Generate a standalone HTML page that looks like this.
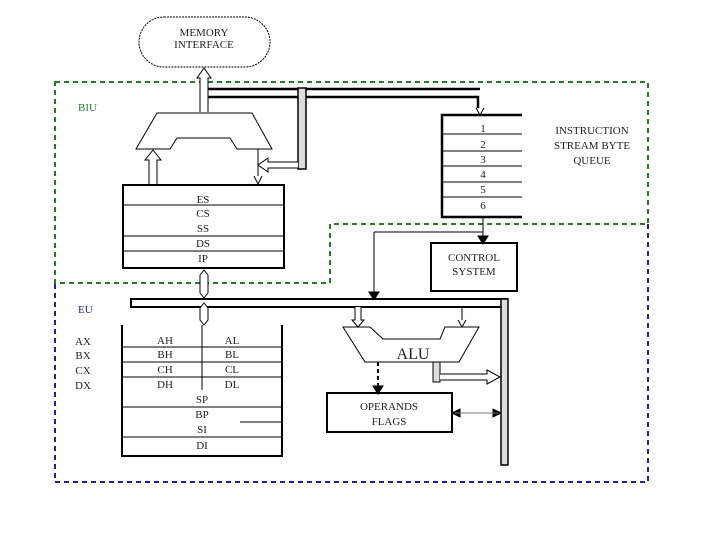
<!DOCTYPE html><html><head><style>body{margin:0;background:#fff}svg{display:block}text{font-family:"Liberation Serif",serif;fill:#222}</style></head><body>
<svg width="720" height="540" viewBox="0 0 720 540">
<g fill="none" stroke="#000">
<!-- memory interface -->
<rect x="139" y="17" width="131" height="50" rx="25" stroke-dasharray="2,1"/>
<!-- BIU green -->
<path d="M55 82H648V224H330V283H55Z" stroke="#2a7a2a" stroke-width="2" stroke-dasharray="5,4"/>
<path d="M648 224V482H55V283" stroke="#23238f" stroke-width="2" stroke-dasharray="5,4"/>
<!-- up arrow to memory -->
<path d="M200 112V78H197L204 68L211 78H208V112" fill="#fff"/>
<!-- bus to queue -->
<path d="M208 89H480M208 97H478V108" stroke-width="2.5"/>
<path d="M476 108L480 115L484 108" />
<rect x="298" y="88" width="8" height="81" fill="#ddd" stroke-width="1.5"/>
<path d="M298 162H268V158L258 165L268 172V168H298" fill="#fff"/>
<!-- adder -->
<path d="M157 113H252L272 149H237L230 138H177L170 149H136Z" fill="#fff"/>
<path d="M149 185V160H145L153 150L161 160H157V185" fill="#fff"/>
<path d="M258 149V176M254 176L258 184L262 176"/>
<!-- segment regs -->
<rect x="123" y="185" width="161" height="83" stroke-width="2"/>
<path d="M123 205H284M123 236H284M123 251H284"/>
<!-- queue -->
<path d="M522 115H442V217H522" stroke-width="2.5"/>
<path d="M442 134H522M442 151H522M442 166H522M442 182H522M442 197H522"/>
<path d="M483 217V236M374 232H483V236M374 232V292"/>
<path d="M478 236L483 244L488 236ZM369 292L374 300L379 292Z" fill="#000"/>
<rect x="431" y="243" width="86" height="48" stroke-width="2"/>
<!-- EU bus -->
<path d="M131 299H507V307H131Z" fill="#fff" stroke-width="2"/>
<rect x="501" y="299" width="7" height="166" fill="#ddd" stroke-width="1.5"/>
<path d="M200 275L204 270L208 275V293L204 298L200 293Z M200 308L204 303L208 308V320L204 325L200 320Z" fill="#fff"/>
<path d="M196 276H212M196 292H212M196 309H212M196 319H212" stroke-width="0"/>
<!-- GP regs -->
<path d="M122 325V456H282V325" stroke-width="2"/>
<path d="M122 347H282M122 362H282M122 377H282M122 407H282M122 437H282M202 325V390M240 422H282"/>
<!-- ALU -->
<path d="M343 327H370L383 339H440L445 327H479L459 362H365Z" fill="#fff"/>
<path d="M355 307V320H352L358 327L364 320H361V307" fill="#fff"/>
<path d="M462 307V320M458 320L462 327L466 320"/>
<rect x="433" y="362" width="7" height="20" fill="#ddd"/>
<path d="M440 374H487V370L500 377L487 384V380H440" fill="#fff"/>
<path d="M378 362V386" stroke-width="2" stroke-dasharray="4,3"/>
<path d="M373 386L378 394L383 386Z M452 413L460 409V417Z M501 413L493 409V417Z" fill="#000"/>
<path d="M455 413H498" stroke="#777"/>
<rect x="327" y="393" width="125" height="39" stroke-width="2"/>
</g>
<g font-size="11" text-anchor="middle">
<text x="204" y="36">MEMORY</text><text x="204" y="48">INTERFACE</text>
<text x="203" y="203">ES</text><text x="203" y="217">CS</text><text x="203" y="232">SS</text><text x="203" y="247">DS</text><text x="203" y="262">IP</text>
<text x="483" y="132">1</text><text x="483" y="148">2</text><text x="483" y="163">3</text><text x="483" y="178">4</text><text x="483" y="193">5</text><text x="483" y="209">6</text>
<text x="592" y="134">INSTRUCTION</text><text x="592" y="149">STREAM BYTE</text><text x="592" y="164">QUEUE</text>
<text x="474" y="261">CONTROL</text><text x="474" y="275">SYSTEM</text>
<text x="165" y="344">AH</text><text x="232" y="344">AL</text>
<text x="165" y="358">BH</text><text x="232" y="358">BL</text>
<text x="165" y="373">CH</text><text x="232" y="373">CL</text>
<text x="165" y="388">DH</text><text x="232" y="388">DL</text>
<text x="202" y="403">SP</text><text x="202" y="418">BP</text><text x="202" y="433">SI</text><text x="202" y="449">DI</text>
<text x="83" y="345">AX</text><text x="83" y="359">BX</text><text x="83" y="374">CX</text><text x="83" y="389">DX</text>
<text x="389" y="410">OPERANDS</text><text x="389" y="425">FLAGS</text>
<text x="413" y="359" font-size="16">ALU</text>
</g>
<text x="78" y="111" font-size="11" style="fill:#2a7a2a">BIU</text>
<text x="78" y="313" font-size="11" style="fill:#23238f">EU</text>
</svg></body></html>
